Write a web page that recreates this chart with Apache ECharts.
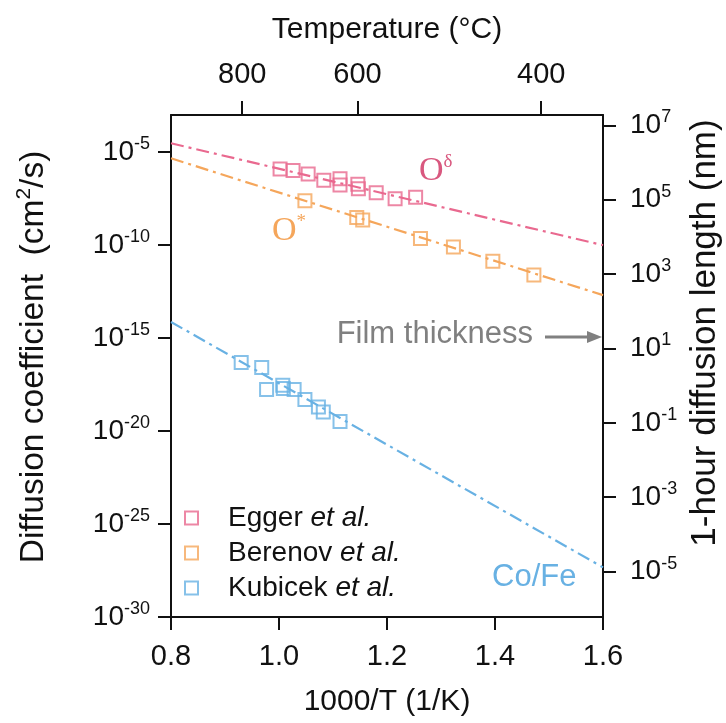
<!DOCTYPE html>
<html><head><meta charset="utf-8">
<script src="https://cdn.jsdelivr.net/npm/echarts@6/dist/echarts.min.js"></script>
<style>html,body{margin:0;padding:0;background:#fff}#c{width:726px;height:723px}</style>
</head><body><div id="c"></div>
<script>
// ---- data ----
const xTicks = [0.8, 1.0, 1.2, 1.4, 1.6];               // 1000/T (1/K)
const tempTicksC = [800, 600, 400];                      // top axis, °C
const logDTicks = [-30, -25, -20, -15, -10, -5];         // left axis exponents, D (cm^2/s)
const lengthExpTicks = [7, 5, 3, 1, -1, -3, -5];         // right axis exponents, L (nm)
const legendNames = ['Egger', 'Berenov', 'Kubicek'];

const eggerX    = [1.002, 1.026, 1.054, 1.083, 1.113, 1.113, 1.146, 1.147, 1.180, 1.215, 1.253];
const eggerLogD = [-5.91, -5.98, -6.18, -6.51, -6.43, -6.77, -6.73, -6.97, -7.18, -7.50, -7.43];

const berenovX    = [1.048, 1.144, 1.155, 1.262, 1.323, 1.396, 1.472];
const berenovLogD = [-7.61, -8.51, -8.65, -9.64, -10.10, -10.86, -11.61];

const kubicekX    = [0.930, 0.968, 0.977, 1.007, 1.008, 1.028, 1.048, 1.073, 1.082, 1.113];
const kubicekLogD = [-16.31, -16.58, -17.76, -17.53, -17.71, -17.76, -18.30, -18.70, -18.97, -19.49];

const fitX = [0.8, 1.6];
const eggerFitLogD   = [-4.52, -10.0];
const berenovFitLogD = [-5.33, -12.69];
const kubicekFitLogD = [-14.13, -27.33];

const logDMin = -30, logDMax = -3;
const oneHourLengthOffset = Math.log10(6e8); // log10 L(nm) = 0.5*log10 D + log10(sqrt(3600 s)*1e7)

// ---- helpers ----
const zip = (xs, ys) => xs.map((x, i) => [x, ys[i]]);
const invT = c => 1000 / (c + 273.15);
const FONT = 'Liberation Sans, Arial, sans-serif';
const C_PINK = '#e9698f', C_ORANGE = '#f5a65b', C_BLUE = '#68b1e3';
const supRich = {
  b: {fontSize: 28, fontFamily: FONT, color: '#111', lineHeight: 34},
  s: {fontSize: 18, fontFamily: FONT, color: '#111', verticalAlign: 'top', lineHeight: 34, padding: [0, 0, 12, 0]}
};
const dash = [13, 5, 3, 5];

const chart = echarts.init(document.getElementById('c'));
const axisLine = {show: true, onZero: false, lineStyle: {color: '#111', width: 2}};
const axisTickStyle = {lineStyle: {color: '#111', width: 2}};

chart.setOption({
  animation: false,
  backgroundColor: '#fff',
  grid: {left: 171, right: 123, top: 115, bottom: 106, containLabel: false, outerBoundsMode: 'none'},
  legend: {
    orient: 'vertical', left: 179, top: 499,
    data: legendNames, itemWidth: 13, itemHeight: 13, itemGap: 7,
    icon: 'rect',
    itemStyle: {color: 'transparent', borderWidth: 2},
    formatter: n => n + ' {i|et al.}',
    textStyle: {fontFamily: FONT, fontSize: 28, color: '#111', padding: [0, 0, 0, 25],
      rich: {i: {fontFamily: FONT, fontSize: 28, fontStyle: 'italic', color: '#111'}}}
  },
  xAxis: [{
    type: 'value', position: 'bottom', min: 0.8, max: 1.6, interval: 0.2,
    name: '1000/T (1/K)', nameLocation: 'middle', nameGap: 70,
    nameTextStyle: {fontFamily: FONT, fontSize: 30, color: '#111'},
    axisLine, splitLine: {show: false},
    axisTick: {show: true, inside: false, length: 13, customValues: xTicks, ...axisTickStyle},
    axisLabel: {customValues: xTicks, margin: 25, fontFamily: FONT, fontSize: 29, color: '#111',
      formatter: v => v.toFixed(1)}
  }, {
    type: 'value', position: 'top', min: 0.8, max: 1.6,
    name: 'Temperature (°C)', nameLocation: 'middle', nameGap: 70,
    nameTextStyle: {fontFamily: FONT, fontSize: 30, color: '#111'},
    axisLine, splitLine: {show: false},
    axisTick: {show: true, inside: false, length: 14, customValues: tempTicksC.map(invT), ...axisTickStyle},
    axisLabel: {customValues: tempTicksC.map(invT), margin: 26, fontFamily: FONT, fontSize: 29, color: '#111',
      formatter: v => String(Math.round(1000 / v - 273.15))}
  }],
  yAxis: [{
    type: 'value', position: 'left', min: logDMin, max: logDMax,
    name: '{t|Diffusion coefficient  (cm}{s|2}{t|/s)}', nameLocation: 'middle', nameGap: 117, nameRotate: 90,
    nameTextStyle: {padding: [0, 0, 0, 18], rich: {
      t: {fontFamily: FONT, fontSize: 33.5, color: '#111', lineHeight: 40},
      s: {fontFamily: FONT, fontSize: 21, color: '#111', verticalAlign: 'top', lineHeight: 40}}},
    axisLine, splitLine: {show: false},
    axisTick: {show: true, inside: false, length: 13, customValues: logDTicks, ...axisTickStyle},
    axisLabel: {customValues: logDTicks, margin: 21, rich: supRich,
      formatter: v => '{b|10}{s|' + Math.round(v) + '}'}
  }, {
    type: 'value', position: 'right', min: logDMin, max: logDMax,
    name: '1-hour diffusion length (nm)', nameLocation: 'middle', nameGap: 63, nameRotate: 90,
    nameTextStyle: {fontFamily: FONT, fontSize: 35, color: '#111', padding: [0, 0, 0, 66]},
    axisLine, splitLine: {show: false},
    axisTick: {show: true, inside: false, length: 13,
      customValues: lengthExpTicks.map(n => 2 * (n - oneHourLengthOffset)), ...axisTickStyle},
    axisLabel: {customValues: lengthExpTicks.map(n => 2 * (n - oneHourLengthOffset)), margin: 27, rich: supRich,
      formatter: v => '{b|10}{s|' + Math.round(v / 2 + oneHourLengthOffset) + '}'}
  }],
  series: [
    {name: 'EggerFit', type: 'line', data: zip(fitX, eggerFitLogD), showSymbol: false, silent: true,
      lineStyle: {color: C_PINK, width: 2.2, type: dash}, z: 1},
    {name: 'BerenovFit', type: 'line', data: zip(fitX, berenovFitLogD), showSymbol: false, silent: true,
      lineStyle: {color: C_ORANGE, width: 2.2, type: dash}, z: 1},
    {name: 'KubicekFit', type: 'line', data: zip(fitX, kubicekFitLogD), showSymbol: false, silent: true,
      lineStyle: {color: C_BLUE, width: 2.2, type: dash}, z: 1},
    {name: 'Egger', type: 'scatter', data: zip(eggerX, eggerLogD), symbol: 'rect', symbolSize: 13,
      itemStyle: {color: 'transparent', borderColor: C_PINK, borderWidth: 2}, z: 3},
    {name: 'Berenov', type: 'scatter', data: zip(berenovX, berenovLogD), symbol: 'rect', symbolSize: 13,
      itemStyle: {color: 'transparent', borderColor: C_ORANGE, borderWidth: 2}, z: 3},
    {name: 'Kubicek', type: 'scatter', data: zip(kubicekX, kubicekLogD), symbol: 'rect', symbolSize: 13,
      itemStyle: {color: 'transparent', borderColor: C_BLUE, borderWidth: 2}, z: 3}
  ],
  graphic: [
    {type: 'text', left: 419, top: 153, z: 10, style: {text: '{o|O}{d|δ}', rich: {
      o: {fontFamily: 'Liberation Serif, serif', fontSize: 34, fill: '#d9587f', lineHeight: 36},
      d: {fontFamily: 'Liberation Serif, serif', fontSize: 19, fill: '#d9587f', verticalAlign: 'top', lineHeight: 36}}}},
    {type: 'text', left: 272, top: 213, z: 10, style: {text: '{o|O}{d|*}', rich: {
      o: {fontFamily: 'Liberation Serif, serif', fontSize: 34, fill: C_ORANGE, lineHeight: 36},
      d: {fontFamily: 'Liberation Serif, serif', fontSize: 19, fill: C_ORANGE, verticalAlign: 'top', lineHeight: 36}}}},
    {type: 'text', right: 726 - 533, top: 319, z: 10, style: {text: 'Film thickness', fontFamily: FONT, fontSize: 31, fill: '#808080'}},
    {type: 'line', z: 10, shape: {x1: 545, y1: 337, x2: 590, y2: 337}, style: {stroke: '#808080', lineWidth: 3}},
    {type: 'polygon', z: 10, shape: {points: [[587, 331], [602, 337], [587, 343]]}, style: {fill: '#808080'}},
    {type: 'text', left: 492, top: 562, z: 10, style: {text: 'Co/Fe', fontFamily: FONT, fontSize: 31, fill: C_BLUE}}
  ]
});
</script></body></html>
